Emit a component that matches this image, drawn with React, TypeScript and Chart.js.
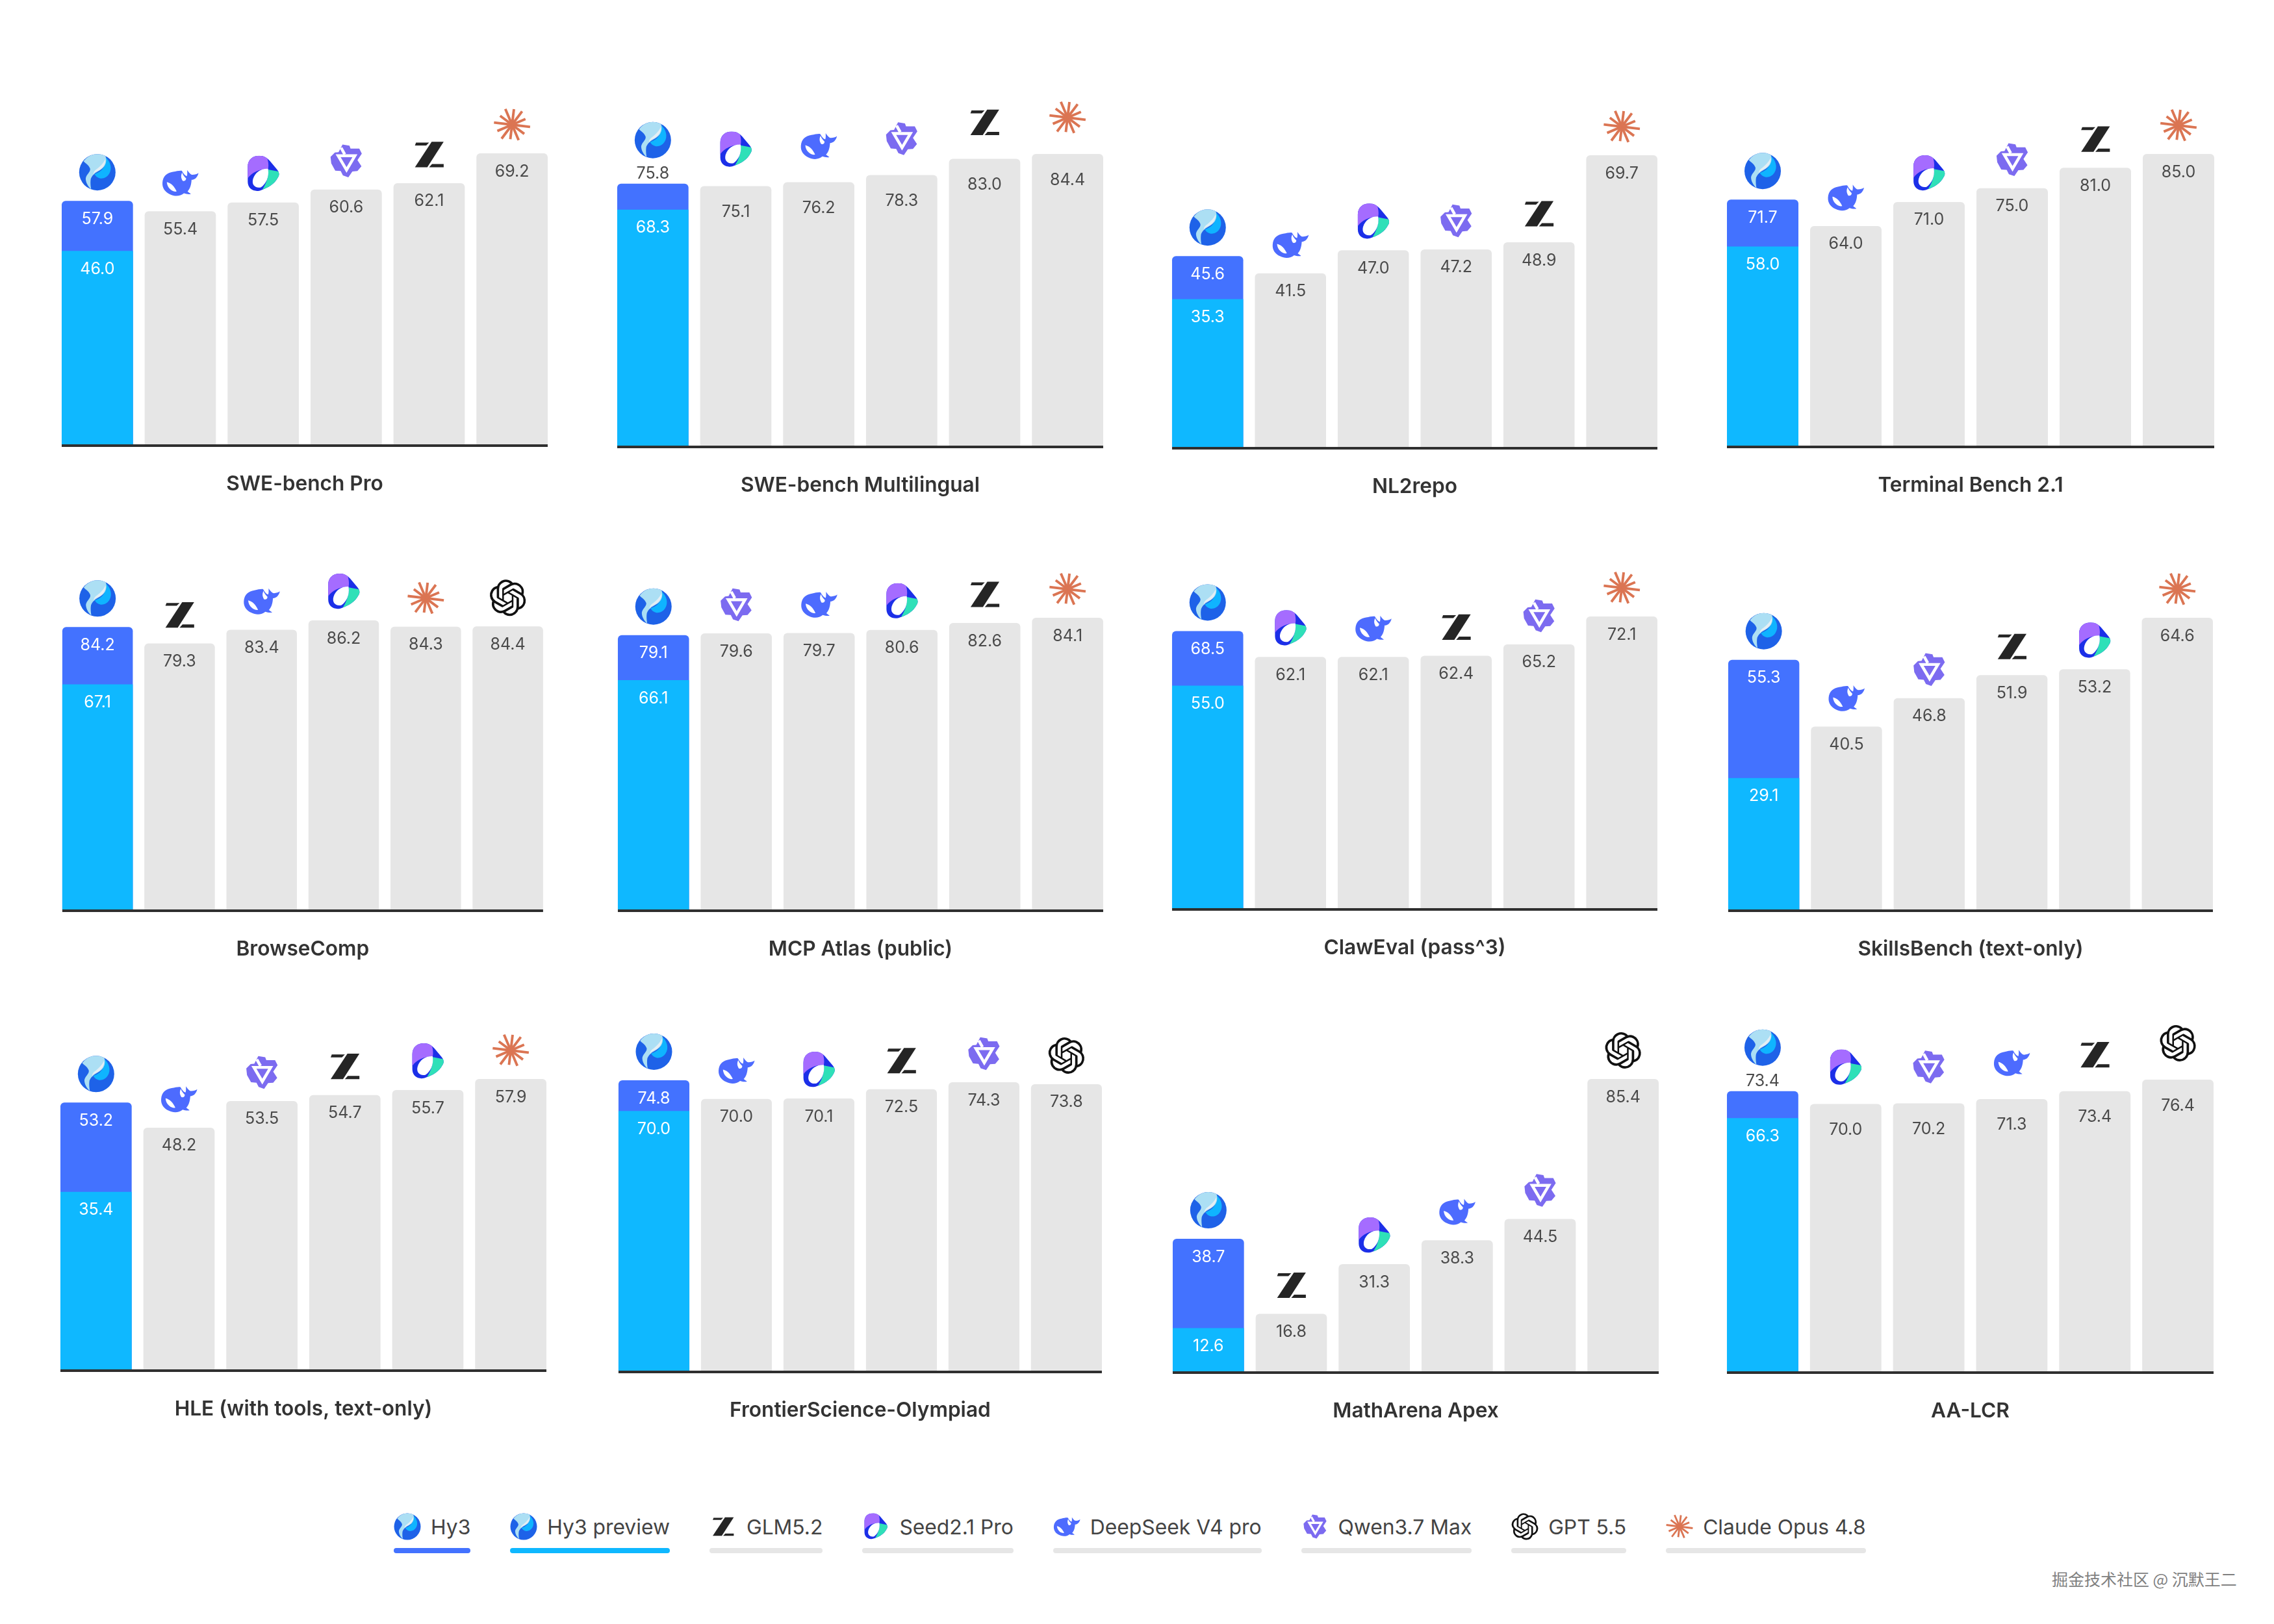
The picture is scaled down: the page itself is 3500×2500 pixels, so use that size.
import React, { useEffect, useRef } from 'react';
import { Chart, registerables } from 'chart.js';

Chart.register(...registerables);

const benchmarkNames = [
    'SWE-bench Pro', 'SWE-bench Multilingual', 'NL2repo', 'Terminal Bench 2.1',
    'BrowseComp', 'MCP Atlas (public)', 'ClawEval (pass^3)', 'SkillsBench (text-only)',
    'HLE (with tools, text-only)', 'FrontierScience-Olympiad', 'MathArena Apex', 'AA-LCR',
];

const hy3Scores = [57.9, 75.8, 45.6, 71.7, 84.2, 79.1, 68.5, 55.3, 53.2, 74.8, 38.7, 73.4];
// FrontierScience: the segment is drawn near 66.9 although it is printed as 70.0
const hy3PreviewScores = [46.0, 68.3, 35.3, 58.0, 67.1, 66.1, 55.0, 29.1, 35.4, 66.9, 12.6, 66.3];
const hy3PreviewPrinted: Record<number, string> = { 9: '70.0' };

const rivalNames = [
    ['DeepSeek', 'Seed', 'Qwen', 'GLM', 'Claude'],
    ['Seed', 'DeepSeek', 'Qwen', 'GLM', 'Claude'],
    ['DeepSeek', 'Seed', 'Qwen', 'GLM', 'Claude'],
    ['DeepSeek', 'Seed', 'Qwen', 'GLM', 'Claude'],
    ['GLM', 'DeepSeek', 'Seed', 'Claude', 'GPT'],
    ['Qwen', 'DeepSeek', 'Seed', 'GLM', 'Claude'],
    ['Seed', 'DeepSeek', 'GLM', 'Qwen', 'Claude'],
    ['DeepSeek', 'Qwen', 'GLM', 'Seed', 'Claude'],
    ['DeepSeek', 'Qwen', 'GLM', 'Seed', 'Claude'],
    ['DeepSeek', 'Seed', 'GLM', 'Qwen', 'GPT'],
    ['GLM', 'Seed', 'DeepSeek', 'Qwen', 'GPT'],
    ['Seed', 'Qwen', 'DeepSeek', 'GLM', 'GPT'],
];

const rivalScores = [
    [55.4, 57.5, 60.6, 62.1, 69.2],
    [75.1, 76.2, 78.3, 83.0, 84.4],
    [41.5, 47.0, 47.2, 48.9, 69.7],
    [64.0, 71.0, 75.0, 81.0, 85.0],
    [79.3, 83.4, 86.2, 84.3, 84.4],
    [79.6, 79.7, 80.6, 82.6, 84.1],
    [62.1, 62.1, 62.4, 65.2, 72.1],
    [40.5, 46.8, 51.9, 53.2, 64.6],
    [48.2, 53.5, 54.7, 55.7, 57.9],
    [70.0, 70.1, 72.5, 74.3, 73.8],
    [16.8, 31.3, 38.3, 44.5, 85.4],
    [70.0, 70.2, 71.3, 73.4, 76.4],
];

const legendNames = ['Hy3', 'Hy3 preview', 'GLM5.2', 'Seed2.1 Pro', 'DeepSeek V4 pro', 'Qwen3.7 Max', 'GPT 5.5', 'Claude Opus 4.8'];
const legendLogos = ['Hy3', 'Hy3', 'GLM', 'Seed', 'DeepSeek', 'Qwen', 'GPT', 'Claude'];
const legendBars = ['#4372FF', '#0FB8FF', '#E6E6E6', '#E6E6E6', '#E6E6E6', '#E6E6E6', '#E6E6E6', '#E6E6E6'];

// Layout of each panel in page pixels: bar span, axis line and top of the tallest bar
const panelLeft = [95, 950, 1804, 2658, 96, 951, 1804, 2660, 93, 952, 1805, 2658];
const panelRight = [843, 1698, 2551, 3408, 836, 1698, 2551, 3406, 841, 1696, 2553, 3407];
const panelBase = [686, 688, 690, 688, 1402, 1402, 1400, 1402, 2110, 2112, 2113, 2113];
const panelTop = [236, 237, 239, 237, 955, 951, 949, 951, 1661, 1663, 1661, 1662];

const FONT = 'Inter, "Noto Sans", sans-serif';
const BLUE = '#4372FF';
const CYAN = '#0FB8FF';
const GREY = '#E6E6E6';

const GPT_PATH = 'M22.2819 9.8211a5.9847 5.9847 0 0 0-.5157-4.9108 6.0462 6.0462 0 0 0-6.5098-2.9A6.0651 6.0651 0 0 0 4.9807 4.1818a5.9847 5.9847 0 0 0-3.9977 2.9 6.0462 6.0462 0 0 0 .7427 7.0966 5.98 5.98 0 0 0 .511 4.9107 6.051 6.051 0 0 0 6.5146 2.9001A5.9847 5.9847 0 0 0 13.2599 24a6.0557 6.0557 0 0 0 5.7718-4.2058 5.9894 5.9894 0 0 0 3.9977-2.9001 6.0557 6.0557 0 0 0-.7475-7.0729zm-9.022 12.6081a4.4755 4.4755 0 0 1-2.8764-1.0408l.1419-.0804 4.7783-2.7582a.7948.7948 0 0 0 .3927-.6813v-6.7369l2.02 1.1686a.071.071 0 0 1 .038.052v5.5826a4.504 4.504 0 0 1-4.4945 4.4944zm-9.6607-4.1254a4.4708 4.4708 0 0 1-.5346-3.0137l.142.0852 4.783 2.7582a.7712.7712 0 0 0 .7806 0l5.8428-3.3685v2.3324a.0804.0804 0 0 1-.0332.0615L9.74 19.9502a4.4992 4.4992 0 0 1-6.1408-1.6464zM2.3408 7.8956a4.485 4.485 0 0 1 2.3655-1.9728V11.6a.7664.7664 0 0 0 .3879.6765l5.8144 3.3543-2.0201 1.1685a.0757.0757 0 0 1-.071 0l-4.8303-2.7865A4.504 4.504 0 0 1 2.3408 7.872zm16.5963 3.8558L13.1038 8.364 15.1192 7.2a.0757.0757 0 0 1 .071 0l4.8303 2.7913a4.4944 4.4944 0 0 1-.6765 8.1042v-5.6772a.79.79 0 0 0-.407-.667zm2.0107-3.0231l-.142-.0852-4.7735-2.7818a.7759.7759 0 0 0-.7854 0L9.409 9.2297V6.8974a.0662.0662 0 0 1 .0284-.0615l4.8303-2.7866a4.4992 4.4992 0 0 1 6.6802 4.66zM8.3065 12.863l-2.02-1.1638a.0804.0804 0 0 1-.038-.0567V6.0742a4.4992 4.4992 0 0 1 7.3757-3.4537l-.142.0805L8.704 5.459a.7948.7948 0 0 0-.3927.6813zm1.0976-2.3654l2.602-1.4998 2.6069 1.4998v2.9994l-2.5974 1.4997-2.6067-1.4997Z';

function drawLogo(ctx: CanvasRenderingContext2D, name: string, cx: number, cy: number, size: number) {
    ctx.save();
    ctx.translate(cx - size / 2, cy - size / 2);
    ctx.scale(size / 100, size / 100);

    if (name === 'Hy3') {
        ctx.fillStyle = '#1E62E8';
        ctx.beginPath();
        ctx.arc(50, 50, 50, 0, Math.PI * 2);
        ctx.fill();
        ctx.save();
        ctx.beginPath();
        ctx.arc(50, 50, 50, 0, Math.PI * 2);
        ctx.clip();
        ctx.fillStyle = '#0FB4FF';
        ctx.fill(new Path2D('M72 8 C86 20 92 40 82 55 C72 70 52 72 42 55 C52 52 62 46 68 36 C72 28 74 18 72 8 Z'));
        ctx.fillStyle = '#ACDFF4';
        ctx.fill(new Path2D('M12 20 C30 -4 55 -4 72 4 C78 20 72 36 58 44 C48 50 38 54 32 68 C30 80 32 90 33 97 C24 88 18 78 18 67 C20 55 32 50 30 40 C26 30 18 26 12 20 Z'));
        ctx.fillStyle = '#E4EEF4';
        ctx.fill(new Path2D('M72 14 C74 28 64 42 48 48 C44 50 42 52 40 56 C38 50 44 44 50 40 C58 34 66 26 72 14 Z'));
        ctx.restore();
    } else if (name === 'DeepSeek') {
        ctx.fillStyle = '#4D6BFE';
        ctx.fill(new Path2D('M1 50 C2 32 14 22 30 20 C40 18 48 16 54 17 C58 24 62 30 68 32 C70 26 69 20 69 15 C74 22 78 28 84 28 C90 28 96 26 100 23 C98 34 90 42 81 42 C80 55 78 65 70 74 C74 77 77 79 79 81 C72 82 66 81 60 79 C50 88 34 88 22 82 C8 76 0 64 1 50 Z'));
        ctx.fillStyle = '#FFFFFF';
        ctx.fill(new Path2D('M13 48 C24 50 34 60 40 74 C30 76 14 66 13 48 Z'));
        ctx.fill(new Path2D('M55 22 C58 30 62 34 66 38 C66 44 62 46 57 45 C52 38 51 30 55 22 Z'));
    } else if (name === 'Seed') {
        ctx.translate(50, 50);
        ctx.scale(1.12, 1);
        ctx.translate(-50, -50);
        const outer = new Path2D('M12 30 C12 10 25 0 40 0 C52 0 60 6 66 14 L84 38 C90 46 90 54 86 60 C78 78 62 88 46 94 C30 102 12 92 12 72 Z');
        ctx.save();
        ctx.clip(outer);
        ctx.fillStyle = '#1C2FE8';
        ctx.fillRect(0, 0, 100, 100);
        ctx.fillStyle = '#A56CFF';
        ctx.fill(new Path2D('M0 0 H58 C62 12 64 24 62 36 C40 36 22 46 12 62 H0 Z'));
        ctx.fillStyle = '#2FE0B8';
        ctx.fill(new Path2D('M62 38 L100 46 V100 H44 C56 80 64 60 62 38 Z'));
        ctx.restore();
        ctx.fillStyle = '#FFFFFF';
        ctx.fill(new Path2D('M62 36 C44 35 30 46 25 64 C21 80 30 90 44 87 C56 78 65 60 62 36 Z'));
    } else if (name === 'Qwen') {
        ctx.fillStyle = '#7C6BF0';
        ctx.fill(new Path2D('M40 5 L59 8 L62 16 H86 L93 30 L81 48 L92 65 L81 78 L67 79 L56 95 L41 90 L35 78 L20 77 L9 57 L7 39 L19 27 L29 26 Z'));
        ctx.strokeStyle = '#FFFFFF';
        ctx.lineWidth = 8;
        ctx.lineJoin = 'miter';
        ctx.beginPath();
        ctx.moveTo(28, 36);
        ctx.lineTo(74, 36);
        ctx.lineTo(51, 75);
        ctx.closePath();
        ctx.stroke();
        ctx.beginPath();
        ctx.moveTo(36, 14);
        ctx.lineTo(46, 32);
        ctx.stroke();
    } else if (name === 'GLM') {
        ctx.fillStyle = '#252525';
        ctx.fill(new Path2D('M14 17 H50 L42 25 H11 Z'));
        ctx.fill(new Path2D('M57 15 H90 L45 85 H11 Z'));
        ctx.fill(new Path2D('M58 76 H90 V85 H50 Z'));
    } else if (name === 'GPT') {
        ctx.fillStyle = '#111111';
        ctx.scale(100 / 24, 100 / 24);
        ctx.fill(new Path2D(GPT_PATH));
    } else if (name === 'Claude') {
        const rays = [50, 42, 46, 40, 48, 44, 50, 41, 47, 43, 46, 40];
        ctx.strokeStyle = '#DB7553';
        ctx.lineWidth = 7;
        rays.forEach((r, i) => {
            const a = (i * Math.PI) / 6 + 0.12;
            ctx.beginPath();
            ctx.moveTo(50, 50);
            ctx.lineTo(50 + r * Math.cos(a), 50 + r * Math.sin(a));
            ctx.stroke();
        });
    }
    ctx.restore();
}

// Draws everything Chart.js has no element for: value labels, logos, axis line, panel name
const panelDecor = (index: number, logos: string[]) => ({
    id: 'panelDecor',
    afterDatasetsDraw(chart: Chart) {
        const { ctx, chartArea } = chart;
        const bars = chart.getDatasetMeta(0).data;
        const hy3Bar: any = chart.getDatasetMeta(1).data[0];
        const previewBar: any = chart.getDatasetMeta(2).data[0];
        // a thin Hy3 band pushes its label above the bar and every other mark lower
        const labelOutside = previewBar.y - hy3Bar.y < 44;
        const rivalLabelDrop = labelOutside ? 40 : 28;
        const rivalLift = labelOutside ? 56 : 44;

        ctx.save();
        ctx.textAlign = 'center';
        ctx.textBaseline = 'middle';
        ctx.font = `400 25px ${FONT}`;

        logos.forEach((logo, i) => {
            const bar: any = i === 0 ? hy3Bar : bars[i];
            const lift = i === 0 ? (labelOutside ? 67 : 44) : rivalLift;
            drawLogo(ctx, logo, bar.x, bar.y - lift, 56);
            if (i > 0) {
                ctx.fillStyle = '#4A4A4A';
                ctx.fillText(rivalScores[index][i - 1].toFixed(1), bar.x, bar.y + rivalLabelDrop);
            }
        });

        ctx.fillStyle = labelOutside ? '#4A4A4A' : '#FFFFFF';
        ctx.fillText(hy3Scores[index].toFixed(1), hy3Bar.x, labelOutside ? hy3Bar.y - 15 : hy3Bar.y + 28);
        ctx.fillStyle = '#FFFFFF';
        const printed = hy3PreviewPrinted[index] ?? hy3PreviewScores[index].toFixed(1);
        ctx.fillText(printed, previewBar.x, previewBar.y + 28);

        const first: any = hy3Bar;
        const last: any = bars[bars.length - 1];
        const left = first.x - first.width / 2;
        const right = last.x + last.width / 2;
        ctx.fillStyle = '#2F2F2F';
        ctx.fillRect(left, chartArea.bottom, right - left, 4);

        ctx.fillStyle = '#333333';
        ctx.font = `600 31.6px ${FONT}`;
        ctx.fillText(benchmarkNames[index], (left + right) / 2, chartArea.bottom + 61);
        ctx.restore();
    },
});

const PAD_TOP = 120;
const PAD_BOTTOM = 90;
const PAD_SIDE = 10;

const BenchPanel: React.FC<{ index: number }> = ({ index }) => {
    const canvasRef = useRef<HTMLCanvasElement | null>(null);

    const span = panelRight[index] - panelLeft[index];
    const gap = (span * 18) / 750;
    const plotLeft = panelLeft[index] - gap / 2;
    const plotWidth = span + gap;
    const base = panelBase[index] - 2;
    const width = Math.ceil(plotWidth) + PAD_SIDE * 2;
    const height = base - panelTop[index] + PAD_TOP + PAD_BOTTOM;
    const canvasLeft = plotLeft - PAD_SIDE;
    const canvasTop = panelTop[index] - PAD_TOP;

    useEffect(() => {
        if (!canvasRef.current) return;
        const rivals = rivalScores[index];
        const logos = ['Hy3', ...rivalNames[index]];
        const blank = rivals.map(() => null);

        const chart = new Chart(canvasRef.current, {
            type: 'bar',
            data: {
                labels: logos,
                datasets: [
                    { label: 'Rivals', data: [null, ...rivals], backgroundColor: GREY, order: 3, borderRadius: { topLeft: 6, topRight: 6, bottomLeft: 0, bottomRight: 0 }, borderSkipped: false },
                    { label: 'Hy3', data: [hy3Scores[index], ...blank], backgroundColor: BLUE, order: 2, borderRadius: { topLeft: 6, topRight: 6, bottomLeft: 0, bottomRight: 0 }, borderSkipped: false },
                    { label: 'Hy3 preview', data: [hy3PreviewScores[index], ...blank], backgroundColor: CYAN, order: 1 },
                ],
            },
            options: {
                responsive: false,
                animation: false,
                devicePixelRatio: 1,
                layout: { padding: { top: PAD_TOP, bottom: PAD_BOTTOM, left: PAD_SIDE, right: width - plotWidth - PAD_SIDE } },
                datasets: { bar: { grouped: false, categoryPercentage: 1, barPercentage: 110 / 128 } },
                scales: {
                    x: { display: false },
                    y: { display: false, min: 0, max: Math.max(hy3Scores[index], ...rivals) },
                },
                plugins: { legend: { display: false }, tooltip: { enabled: false } },
            } as any,
            plugins: [panelDecor(index, logos)],
        });

        return () => {
            chart.destroy();
        };
    }, [index, width]);

    return (
        <canvas
            ref={canvasRef}
            width={width}
            height={height}
            style={{ position: 'absolute', left: canvasLeft, top: canvasTop, width, height }}
        />
    );
};

const LegendLogo: React.FC<{ name: string }> = ({ name }) => {
    const ref = useRef<HTMLCanvasElement | null>(null);
    useEffect(() => {
        const ctx = ref.current?.getContext('2d');
        if (ctx) drawLogo(ctx, name, 21, 21, 41);
    }, [name]);
    return <canvas ref={ref} width={42} height={42} style={{ display: 'block', width: 42, height: 42 }} />;
};

export default function App() {
    return (
        <div style={{ position: 'absolute', left: 0, top: 0, width: 3500, height: 2500, background: '#FFFFFF', overflow: 'hidden' }}>
            {benchmarkNames.map((name, i) => (
                <BenchPanel key={name} index={i} />
            ))}
            <div style={{ position: 'absolute', left: 606, top: 2329, display: 'flex', gap: 61, fontFamily: FONT, fontSize: 31.8, color: '#444444' }}>
                {legendNames.map((name, i) => (
                    <div key={name}>
                        <div style={{ display: 'flex', alignItems: 'center', gap: 15, height: 42, whiteSpace: 'nowrap' }}>
                            <LegendLogo name={legendLogos[i]} />
                            <span>{name}</span>
                        </div>
                        <div style={{ height: 8, marginTop: 12, borderRadius: 4, background: legendBars[i] }} />
                    </div>
                ))}
            </div>
            <div style={{ position: 'absolute', left: 3158, top: 2414, fontFamily: '"Noto Sans CJK SC", sans-serif', fontSize: 25, lineHeight: '32px', color: '#808080', whiteSpace: 'nowrap' }}>
                掘金技术社区 @ 沉默王二
            </div>
        </div>
    );
}
